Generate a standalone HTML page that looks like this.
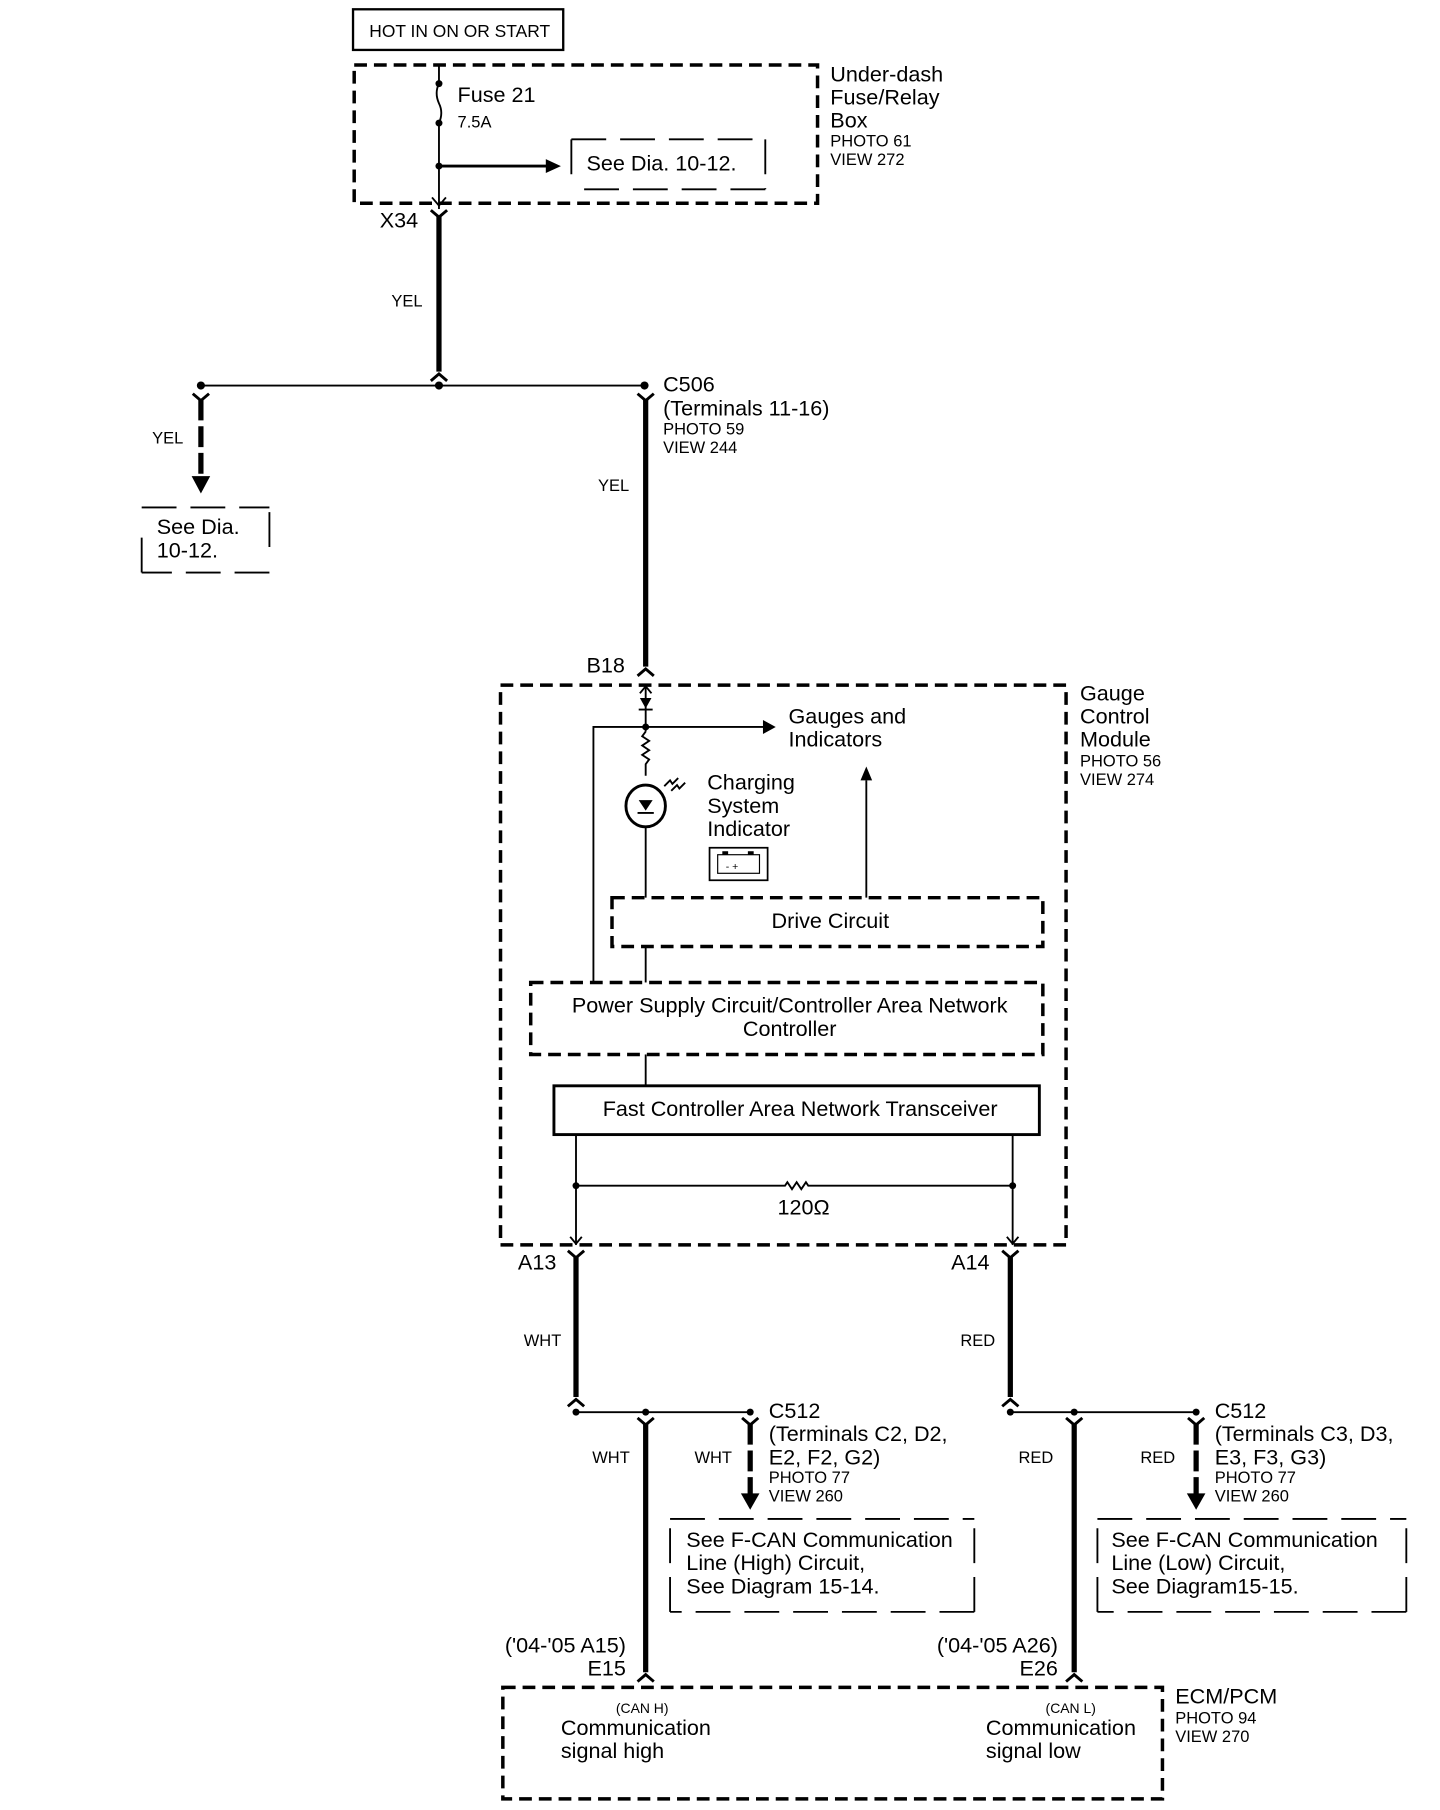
<!DOCTYPE html>
<html><head><meta charset="utf-8"><style>
html,body{margin:0;padding:0;background:#fff;}
svg{display:block;}
text{font-family:"Liberation Sans",sans-serif;fill:#000;}
.t{stroke:#000;stroke-width:1.6;fill:none;}
.k{stroke:#000;stroke-width:4.5;fill:none;}
.d{stroke:#000;stroke-width:3;fill:none;stroke-dasharray:11,6;}
.dl{stroke:#000;stroke-width:1.6;fill:none;stroke-dasharray:30,12;}
.c{stroke:#000;stroke-width:2.5;fill:none;}
.L{font-size:18.6px;}
.S{font-size:14.2px;}
</style></head><body>
<svg width="1440" height="1810" viewBox="0 0 1240 1558.6" preserveAspectRatio="none" xmlns="http://www.w3.org/2000/svg">
<rect x="304" y="8" width="181" height="35" fill="none" stroke="#000" stroke-width="2"/>
<text x="318" y="32" font-size="15">HOT IN ON OR START</text>
<rect x="305" y="56" width="399" height="119" class="d"/>
<text x="715" y="70" class="L">Under-dash</text>
<text x="715" y="90" class="L">Fuse/Relay</text>
<text x="715" y="110" class="L">Box</text>
<text x="715" y="126" class="S">PHOTO 61</text>
<text x="715" y="142" class="S">VIEW 272</text>
<line x1="378" y1="56" x2="378" y2="72" class="t"/>
<path d="M378 72 q-4 8 0 17 q4 8 0 17" class="t"/>
<circle cx="378" cy="72" r="3"/><circle cx="378" cy="106" r="3"/>
<line x1="378" y1="106" x2="378" y2="180" class="t"/>
<text x="394" y="88" class="L">Fuse 21</text>
<text x="394" y="110" class="S">7.5A</text>
<circle cx="378" cy="143" r="3"/>
<line x1="378" y1="143" x2="472" y2="143" stroke="#000" stroke-width="2.5"/>
<polygon points="470,137 483,143 470,149"/>
<path d="M492 120 H659 M659 120 V163 M659 163 H492 M492 120 V150" class="dl"/>
<text x="505" y="147" class="L">See Dia. 10-12.</text>
<path d="M372 170 L378 177 L384 170" class="t"/>
<text x="327" y="196" class="L">X34</text>
<path d="M371 181 L378 187 L385 181" class="c"/>
<line x1="378" y1="186" x2="378" y2="320" class="k"/>
<path d="M371 328 L378 322 L385 328" class="c"/>
<text x="337" y="264" class="S">YEL</text>
<line x1="173" y1="332" x2="555" y2="332" class="t"/>
<circle cx="173" cy="332" r="3.5"/><circle cx="378" cy="332" r="3.5"/><circle cx="555" cy="332" r="3.5"/>
<path d="M166 339 L173 345 L180 339" class="c"/>
<line x1="173" y1="344" x2="173" y2="412" class="k" stroke-dasharray="18,5"/>
<polygon points="165,410 181,410 173,425"/>
<text x="131" y="382" class="S">YEL</text>
<path d="M122 437 H232 M232 441 V482 M232 493 H122 M122 493 V455" class="dl"/>
<text x="135" y="460" class="L">See Dia.</text>
<text x="135" y="480" class="L">10-12.</text>
<path d="M549 339 L556 345 L563 339" class="c"/>
<line x1="556" y1="344" x2="556" y2="574" class="k"/>
<path d="M549 582 L556 576 L563 582" class="c"/>
<text x="571" y="337" class="L">C506</text>
<text x="571" y="358" class="L">(Terminals 11-16)</text>
<text x="571" y="374" class="S">PHOTO 59</text>
<text x="571" y="390" class="S">VIEW 244</text>
<text x="515" y="423" class="S">YEL</text>
<text x="505" y="579" class="L">B18</text>
<rect x="431" y="590" width="487" height="482" class="d"/>
<text x="930" y="603" class="L">Gauge</text>
<text x="930" y="623" class="L">Control</text>
<text x="930" y="643" class="L">Module</text>
<text x="930" y="660" class="S">PHOTO 56</text>
<text x="930" y="676" class="S">VIEW 274</text>
<path d="M551 597 L556 591 L561 597" class="t"/>
<line x1="556" y1="591" x2="556" y2="630" class="t"/>
<polygon points="551,601 561,601 556,610"/><line x1="550" y1="611" x2="562" y2="611" class="t"/>
<circle cx="556" cy="626" r="3"/>
<path d="M511 846 V626 H658" class="t" stroke-width="2"/>
<polygon points="657,620 668,626 657,632"/>
<text x="679" y="623" class="L">Gauges and</text>
<text x="679" y="643" class="L">Indicators</text>
<path d="M556 630 l-3 4 l6 4 l-6 4 l6 4 l-6 4 l6 4 l-3 4 v10" class="t"/>
<ellipse cx="556" cy="694" rx="17" ry="18" fill="none" stroke="#000" stroke-width="2.5"/>
<polygon points="550,689 562,689 556,698"/><line x1="549" y1="700" x2="563" y2="700" stroke="#000" stroke-width="1.6"/>
<path d="M572 677 l5 -5 l2 3 l5 -5 M578 681 l5 -5 l2 3 l5 -5" class="t" stroke-width="1.2"/>
<line x1="556" y1="712" x2="556" y2="773" class="t"/>
<text x="609" y="680" class="L">Charging</text>
<text x="609" y="700" class="L">System</text>
<text x="609" y="720" class="L">Indicator</text>
<rect x="611" y="730" width="50" height="28" fill="none" stroke="#000" stroke-width="1.5"/>
<rect x="618" y="736" width="36" height="16" fill="none" stroke="#000" stroke-width="1"/>
<rect x="622" y="733" width="5" height="3"/><rect x="644" y="733" width="5" height="3"/>
<text x="625" y="749" font-size="9">- +</text>
<line x1="746" y1="773" x2="746" y2="672" class="t"/>
<polygon points="741,672 751,672 746,660"/>
<rect x="527" y="773" width="371" height="42" class="d"/>
<text x="715" y="799" class="L" text-anchor="middle">Drive Circuit</text>
<line x1="556" y1="815" x2="556" y2="846" class="t"/>
<rect x="457" y="846" width="441" height="62" class="d"/>
<text x="680" y="872" class="L" text-anchor="middle">Power Supply Circuit/Controller Area Network</text>
<text x="680" y="892" class="L" text-anchor="middle">Controller</text>
<line x1="556" y1="908" x2="556" y2="935" class="t"/>
<rect x="477" y="935" width="418" height="42" fill="none" stroke="#000" stroke-width="2.5"/>
<text x="689" y="961" class="L" text-anchor="middle">Fast Controller Area Network Transceiver</text>
<line x1="496" y1="977" x2="496" y2="1072" class="t"/>
<line x1="872" y1="977" x2="872" y2="1072" class="t"/>
<path d="M491 1065 L496 1071 L501 1065 M867 1065 L872 1071 L877 1065" class="t"/>
<circle cx="496" cy="1021" r="3"/><circle cx="872" cy="1021" r="3"/>
<path d="M496 1021 H676 l2 -3 l4 6 l4 -6 l4 6 l4 -6 l2 3 H872" class="t"/>
<text x="692" y="1046" class="L" text-anchor="middle">120Ω</text>
<text x="446" y="1093" class="L">A13</text>
<text x="819" y="1093" class="L">A14</text>
<path d="M489 1077 L496 1083 L503 1077 M863 1077 L870 1083 L877 1077" class="c"/>
<line x1="496" y1="1082" x2="496" y2="1203" class="k"/>
<line x1="870" y1="1082" x2="870" y2="1203" class="k"/>
<path d="M489 1211 L496 1205 L503 1211 M863 1211 L870 1205 L877 1211" class="c"/>
<text x="451" y="1159" class="S">WHT</text>
<text x="827" y="1159" class="S">RED</text>
<line x1="496" y1="1216" x2="646" y2="1216" class="t"/>
<line x1="870" y1="1216" x2="1030" y2="1216" class="t"/>
<circle cx="496" cy="1216" r="3"/><circle cx="556" cy="1216" r="3"/><circle cx="646" cy="1216" r="3"/>
<circle cx="870" cy="1216" r="3"/><circle cx="925" cy="1216" r="3"/><circle cx="1030" cy="1216" r="3"/>
<path d="M549 1221 L556 1227 L563 1221 M918 1221 L925 1227 L932 1221 M639 1221 L646 1227 L653 1221 M1023 1221 L1030 1227 L1037 1221" class="c"/>
<line x1="556" y1="1226" x2="556" y2="1440" class="k"/>
<line x1="925" y1="1226" x2="925" y2="1440" class="k"/>
<path d="M549 1448 L556 1442 L563 1448 M918 1448 L925 1442 L932 1448" class="c"/>
<line x1="646" y1="1226" x2="646" y2="1288" class="k" stroke-dasharray="18,5"/>
<line x1="1030" y1="1226" x2="1030" y2="1288" class="k" stroke-dasharray="18,5"/>
<polygon points="638,1286 654,1286 646,1300"/><polygon points="1022,1286 1038,1286 1030,1300"/>
<text x="510" y="1260" class="S">WHT</text>
<text x="598" y="1260" class="S">WHT</text>
<text x="877" y="1260" class="S">RED</text>
<text x="982" y="1260" class="S">RED</text>
<text x="662" y="1221" class="L">C512</text>
<text x="662" y="1241" class="L">(Terminals C2, D2,</text>
<text x="662" y="1261" class="L">E2, F2, G2)</text>
<text x="662" y="1277" class="S">PHOTO 77</text>
<text x="662" y="1293" class="S">VIEW 260</text>
<text x="1046" y="1221" class="L">C512</text>
<text x="1046" y="1241" class="L">(Terminals C3, D3,</text>
<text x="1046" y="1261" class="L">E3, F3, G3)</text>
<text x="1046" y="1277" class="S">PHOTO 77</text>
<text x="1046" y="1293" class="S">VIEW 260</text>
<path d="M577 1308 H839 M839 1316 V1388 M839 1388 H577 M577 1388 V1316" class="dl"/>
<text x="591" y="1332" class="L">See F-CAN Communication</text>
<text x="591" y="1352" class="L">Line (High) Circuit,</text>
<text x="591" y="1372" class="L">See Diagram 15-14.</text>
<path d="M945 1308 H1211 M1211 1316 V1388 M1211 1388 H945 M945 1388 V1316" class="dl"/>
<text x="957" y="1332" class="L">See F-CAN Communication</text>
<text x="957" y="1352" class="L">Line (Low) Circuit,</text>
<text x="957" y="1372" class="L">See Diagram15-15.</text>
<text x="539" y="1423" class="L" text-anchor="end">('04-'05 A15)</text>
<text x="539" y="1443" class="L" text-anchor="end">E15</text>
<text x="911" y="1423" class="L" text-anchor="end">('04-'05 A26)</text>
<text x="911" y="1443" class="L" text-anchor="end">E26</text>
<rect x="433" y="1453" width="568" height="96" class="d"/>
<text x="1012" y="1467" class="L">ECM/PCM</text>
<text x="1012" y="1484" class="S">PHOTO 94</text>
<text x="1012" y="1500" class="S">VIEW 270</text>
<text x="553" y="1475" font-size="12" text-anchor="middle">(CAN H)</text>
<text x="483" y="1494" class="L">Communication</text>
<text x="483" y="1514" class="L">signal high</text>
<text x="922" y="1475" font-size="12" text-anchor="middle">(CAN L)</text>
<text x="849" y="1494" class="L">Communication</text>
<text x="849" y="1514" class="L">signal low</text>
</svg>
</body></html>
